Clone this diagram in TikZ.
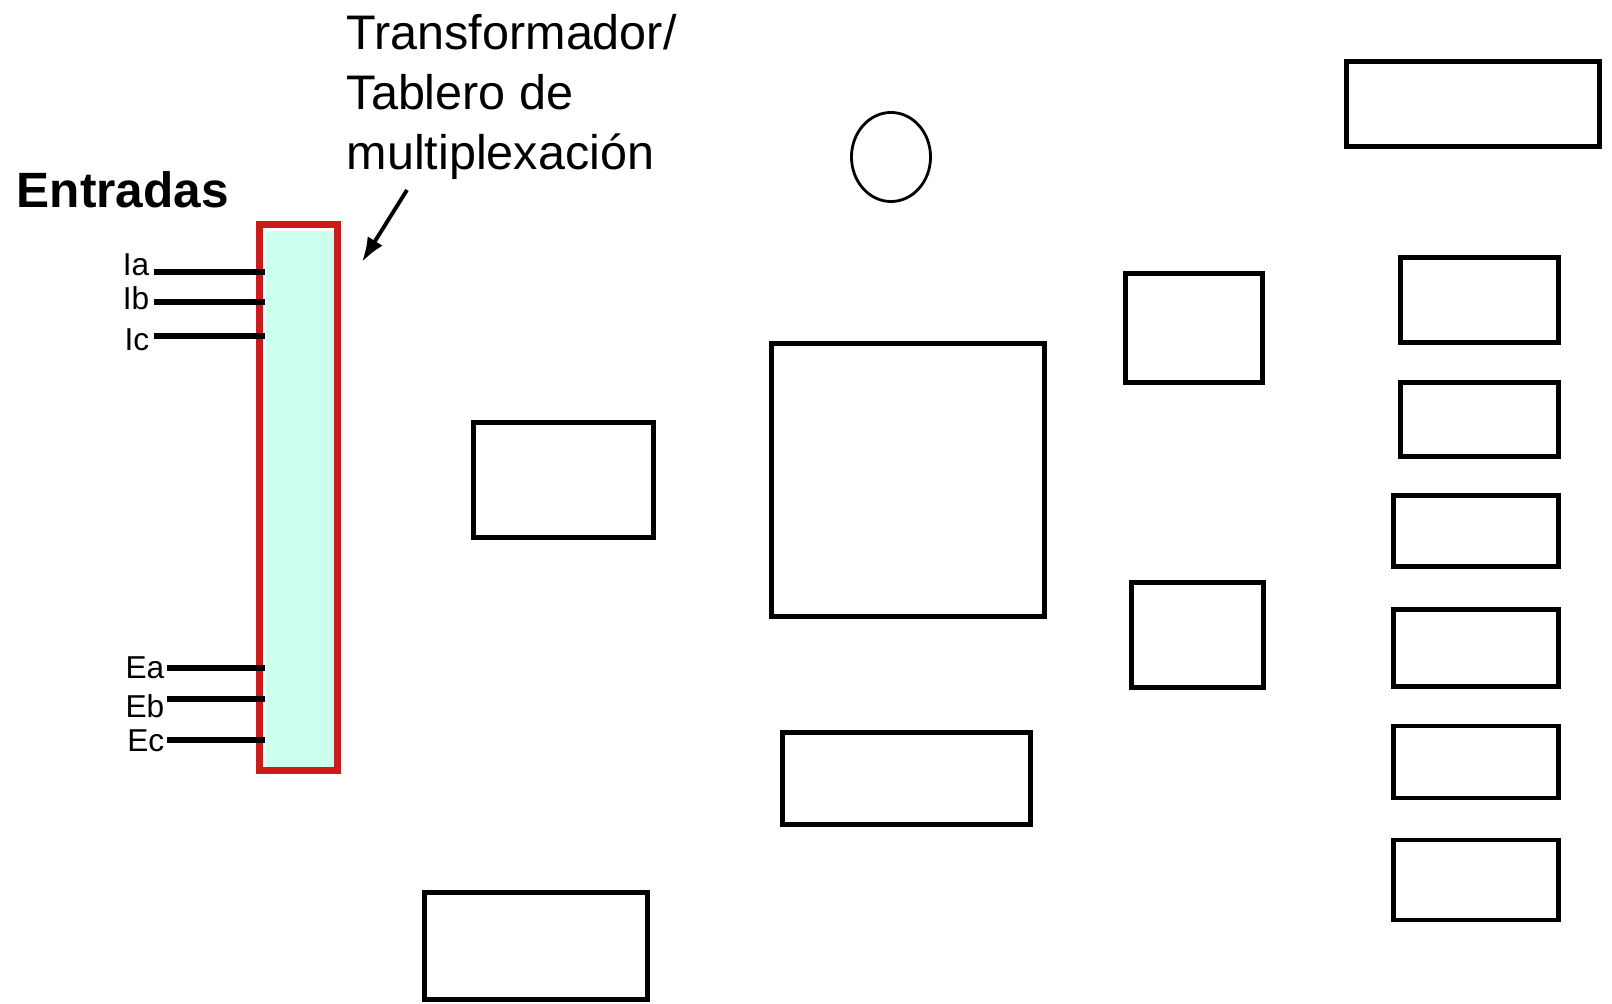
\documentclass[tikz,border=0pt]{standalone}
\usepackage{fontspec}
\setmainfont{Liberation Sans}
\usetikzlibrary{shapes.geometric,arrows.meta,positioning}
\definecolor{muxred}{RGB}{200,28,28}
\definecolor{mint}{RGB}{204,255,238}

\begin{document}
\begin{tikzpicture}[x=0.01cm,y=-0.01cm,
    blk/.style={draw, line width=1.4pt, inner sep=0pt},
    wire/.style={line width=1.7pt},
    pinlbl/.style={font=\fontsize{9}{10}\selectfont, inner sep=0pt, anchor=east}]
    \useasboundingbox (0,0) rectangle (1612,1004);

    \node[font=\fontsize{14.1}{17}\selectfont\bfseries, inner sep=0pt, anchor=base west] (entradas) at (16,208) {Entradas};
    \node[font=\fontsize{13.8}{17.07}\selectfont, inner sep=0pt, anchor=north west, align=left] (title) at (346,14) {Transformador/\\Tablero de\\multiplexación};

    % multiplexer board
    \node[draw=muxred, fill=white, line width=2pt, inner sep=0pt, minimum width=0.78cm, minimum height=5.46cm] (mux) at (298.5,497.5) {};
    \node[fill=mint, inner sep=0pt, minimum width=0.68cm, minimum height=5.36cm] (muxin) at (300,499) {};

    \coordinate (arT) at (407,190);
    \coordinate (arH) at (362,262);
    \draw[line width=1.1pt, -{Latex[length=7pt,width=5pt]}] (arT) -- (arH);

    % Inputs
    \node[pinlbl] (lia) at (150,265) {Ia};
    \node[pinlbl] (lib) at (150,298) {Ib};
    \node[pinlbl] (lic) at (150,340) {Ic};
    \node[pinlbl] (lea) at (165,668) {Ea};
    \node[pinlbl] (leb) at (165,706) {Eb};
    \node[pinlbl] (lec) at (165,741) {Ec};
    \coordinate (wia) at (154,272);
    \coordinate (wib) at (154,302);
    \coordinate (wic) at (154,336);
    \coordinate (wea) at (167,668);
    \coordinate (web) at (167,699);
    \coordinate (wec) at (167,740);
    \draw[wire] (wia) -- (wia -| muxin.west);
    \draw[wire] (wib) -- (wib -| muxin.west);
    \draw[wire] (wic) -- (wic -| muxin.west);
    \draw[wire] (wea) -- (wea -| muxin.west);
    \draw[wire] (web) -- (web -| muxin.west);
    \draw[wire] (wec) -- (wec -| muxin.west);

    % Blocks
    \node[draw, ellipse, line width=0.8pt, inner sep=0pt, minimum width=0.79cm, minimum height=0.89cm] (lamp) at (891,157) {};
    \node[blk, minimum width=1.80cm, minimum height=1.15cm] (b1) at (563.5,480) {};
    \node[blk, minimum width=2.23cm, minimum height=1.07cm] (b2) at (536,946) {};
    \node[blk, minimum width=2.73cm, minimum height=2.73cm] (cpu) at (908,480) {};
    \node[blk, minimum width=2.48cm, minimum height=0.92cm] (b3) at (906.5,778.5) {};
    \node[blk, minimum width=1.37cm, minimum height=1.09cm] (b4) at (1194,328) {};
    \node[blk, minimum width=1.32cm, minimum height=1.05cm] (b5) at (1197.5,635) {};

    \node[blk, minimum width=2.53cm, minimum height=0.85cm] (o1) at (1473,104) {};
    \node[blk, minimum width=1.58cm, minimum height=0.85cm] (o2) at (1479.5,300) {};
    \node[blk, minimum width=1.58cm, minimum height=0.74cm] (o3) at (1479.5,419.5) {};
    \node[blk, minimum width=1.65cm, minimum height=0.71cm] (o4) at (1476,531) {};
    \node[blk, minimum width=1.65cm, minimum height=0.77cm] (o5) at (1476,648) {};
    \node[blk, minimum width=1.65cm, minimum height=0.72cm] (o6) at (1476,762) {};
    \node[blk, minimum width=1.65cm, minimum height=0.80cm] (o7) at (1476,880) {};
\end{tikzpicture}
\end{document}
